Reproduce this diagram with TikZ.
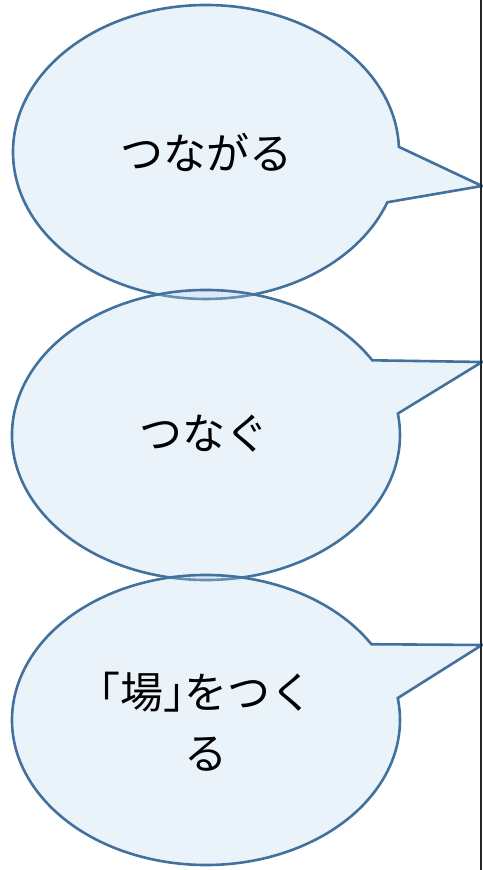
\documentclass[tikz,border=0pt]{standalone}
\usepackage{fontspec}
\newfontfamily\jpfont{Noto Sans CJK JP}
\usepackage{tikz}

\definecolor{bubblefill}{HTML}{BDD7EE}
\definecolor{bubbleline}{HTML}{41719C}
\tikzset{bubble/.style={fill=bubblefill, fill opacity=0.3, draw=bubbleline, line width=2.6pt}}

\begin{document}
\begin{tikzpicture}[x=1pt, y=1pt, every node/.style={font=\jpfont\fontsize{43}{61}\selectfont}]
	\useasboundingbox (0,0) rectangle (482,870);
	\coordinate (tip1) at (482,684);
	\coordinate (tip2) at (482,508);
	\coordinate (tip3) at (482,225);
	\draw[bubble] (206,718) ++(2:193 and 147) arc[start angle=2, end angle=340, x radius=193, y radius=147] -- (tip1) -- cycle;
	\draw[bubble] (206,435) ++(31:194 and 145) arc[start angle=31, end angle=368.5, x radius=194, y radius=145] -- (tip2) -- cycle;
	\draw[bubble] (206,150) ++(31.5:194 and 145) arc[start angle=31.5, end angle=368.7, x radius=194, y radius=145] -- (tip3) -- cycle;
	\draw[line width=1.8pt, black!85] (481,0) -- (481,870);
	\node (t1) at (206,718) {つながる};
	\node (t2) at (204,436) {つなぐ};
	\node[align=center] (t3) at (206,148) {\kern-0.5em「場」\kern-0.5em をつく\\る};
\end{tikzpicture}
\end{document}
